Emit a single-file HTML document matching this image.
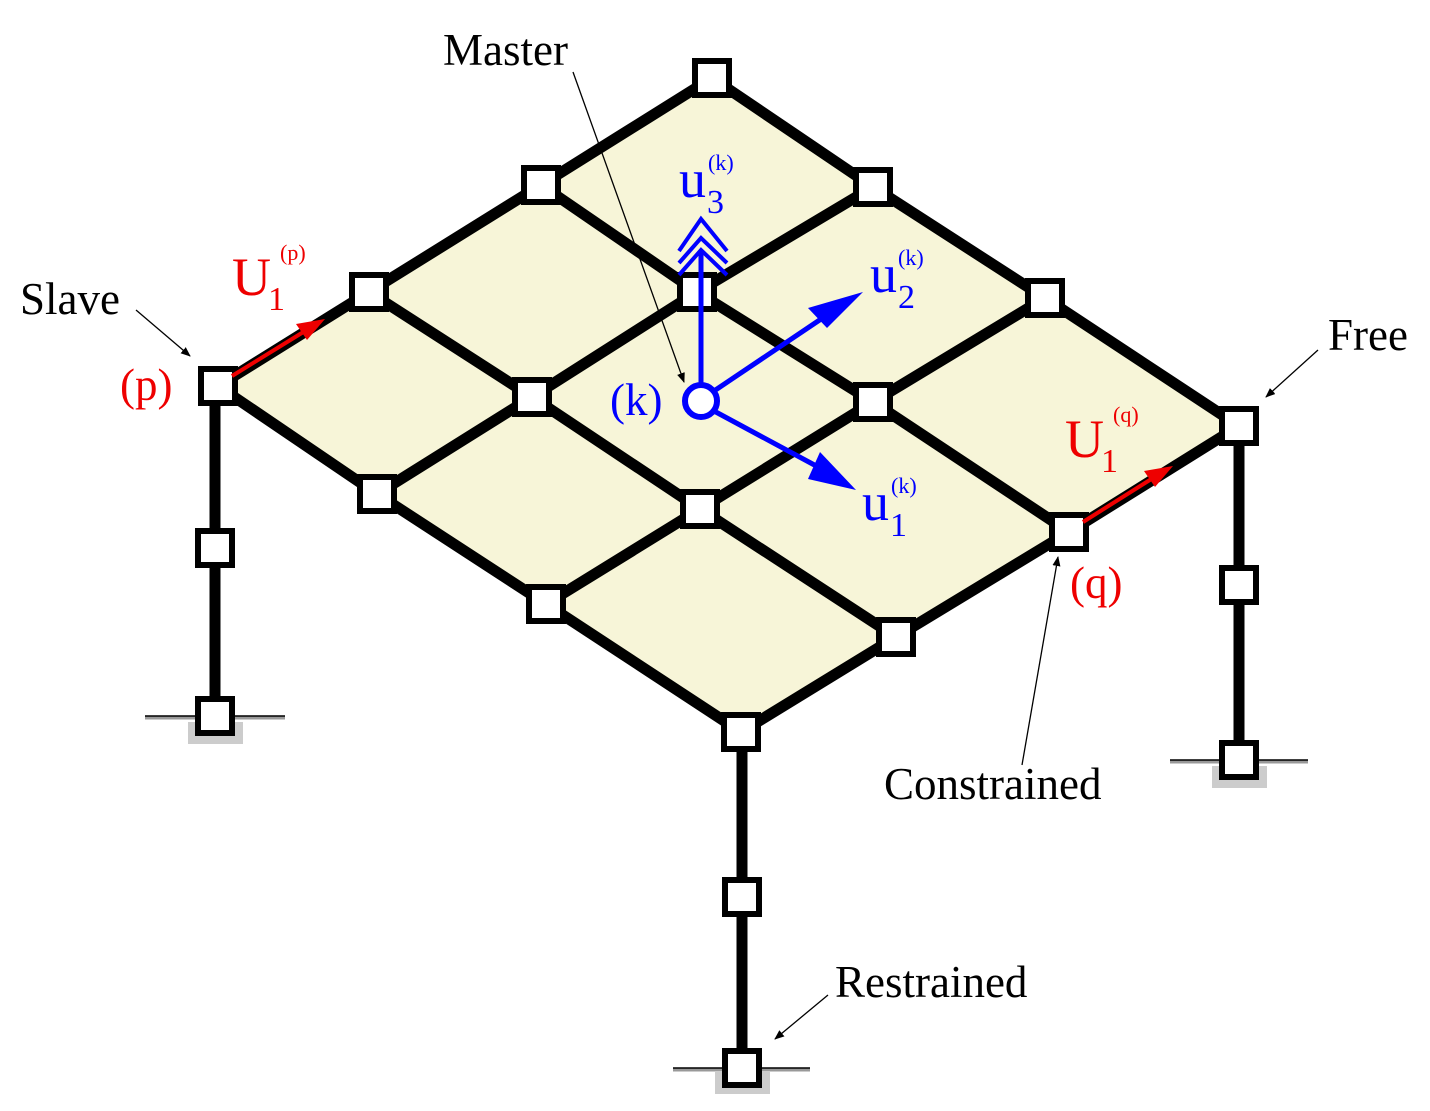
<!DOCTYPE html>
<html><head><meta charset="utf-8"><style>
html,body{margin:0;padding:0;background:#fff;}
svg{display:block;}
text{font-family:"Liberation Serif",serif;}
</style></head><body>
<svg width="1430" height="1111" viewBox="0 0 1430 1111">
<defs>
<marker id="ab" markerWidth="10" markerHeight="8" refX="9" refY="4" orient="auto" markerUnits="userSpaceOnUse"><path d="M0,0 L10,4 L0,8 Z" fill="#000"/></marker>
</defs>
<g>
<polygon points="712,78 1239,426 741,732 218,386" fill="#f7f5d8"/>
<g stroke="#000" stroke-width="11" fill="none" stroke-linejoin="round">
<polyline points="712,78 541,185 369,292 218,386"/>
<polyline points="873,187 697,292 532,397 377,494"/>
<polyline points="1045,298 873,402 700,509 546,604"/>
<polyline points="1239,426 1069,532 896,637 741,732"/>
<polyline points="712,78 873,187 1045,298 1239,426"/>
<polyline points="541,185 697,292 873,402 1069,532"/>
<polyline points="369,292 532,397 700,509 896,637"/>
<polyline points="218,386 377,494 546,604 741,732"/>
</g>
</g>
<g stroke="#000" stroke-width="11">
<line x1="215" y1="386" x2="215" y2="716"/>
<line x1="1239" y1="426" x2="1239" y2="760"/>
<line x1="742" y1="732" x2="742" y2="1068"/>
</g>
<g>
<rect x="188" y="722" width="55" height="22" fill="#ccc"/>
<line x1="145" y1="718" x2="285" y2="718" stroke="#999" stroke-width="3"/>
<line x1="145" y1="716" x2="285" y2="716" stroke="#000" stroke-width="1.5"/>
<rect x="1212" y="766" width="55" height="22" fill="#ccc"/>
<line x1="1170" y1="762" x2="1308" y2="762" stroke="#999" stroke-width="3"/>
<line x1="1170" y1="760" x2="1308" y2="760" stroke="#000" stroke-width="1.5"/>
<rect x="715" y="1072" width="55" height="22" fill="#ccc"/>
<line x1="673" y1="1070" x2="810" y2="1070" stroke="#999" stroke-width="3"/>
<line x1="673" y1="1068" x2="810" y2="1068" stroke="#000" stroke-width="1.5"/>
</g>
<g fill="#fff" stroke="#000" stroke-width="6">
<rect x="695" y="61" width="34" height="34"/><rect x="524" y="168" width="34" height="34"/><rect x="352" y="275" width="34" height="34"/><rect x="201" y="369" width="34" height="34"/>
<rect x="856" y="170" width="34" height="34"/><rect x="680" y="275" width="34" height="34"/><rect x="515" y="380" width="34" height="34"/><rect x="360" y="477" width="34" height="34"/>
<rect x="1028" y="281" width="34" height="34"/><rect x="856" y="385" width="34" height="34"/><rect x="683" y="492" width="34" height="34"/><rect x="529" y="587" width="34" height="34"/>
<rect x="1222" y="409" width="34" height="34"/><rect x="1052" y="515" width="34" height="34"/><rect x="879" y="620" width="34" height="34"/><rect x="724" y="715" width="34" height="34"/>
<rect x="198" y="531" width="34" height="34"/><rect x="198" y="699" width="34" height="34"/>
<rect x="1222" y="568" width="34" height="34"/><rect x="1222" y="743" width="34" height="34"/>
<rect x="725" y="880" width="34" height="34"/><rect x="725" y="1051" width="34" height="34"/>
</g>
<g stroke="#000" stroke-width="1.3" fill="none">
<line x1="573" y1="72" x2="684" y2="382" marker-end="url(#ab)"/>
<line x1="136" y1="310" x2="190" y2="356" marker-end="url(#ab)"/>
<line x1="1318" y1="350" x2="1266" y2="397" marker-end="url(#ab)"/>
<line x1="1022" y1="765" x2="1058" y2="557" marker-end="url(#ab)"/>
<line x1="828" y1="995" x2="775" y2="1039" marker-end="url(#ab)"/>
</g>
<g>
<line x1="232" y1="376" x2="305" y2="331" stroke="#e00" stroke-width="4"/>
<polygon points="325,319 296,324 307,340" fill="#e00"/>
<line x1="1083" y1="522" x2="1153" y2="478" stroke="#e00" stroke-width="4"/>
<polygon points="1173,466 1144,471 1155,487" fill="#e00"/>
</g>
<g stroke="#00f" fill="none">
<line x1="701" y1="385" x2="701" y2="250" stroke-width="5"/>
<polyline points="679,275 701,250 727,275" stroke-width="4"/>
<polyline points="679,263 701,238 727,263" stroke-width="4"/>
<polyline points="679,251 701,219 727,251" stroke-width="4"/>
<line x1="714" y1="391" x2="830" y2="313" stroke-width="5"/>
<polygon points="863,292 808,308 827,328" fill="#00f" stroke="none"/>
<line x1="714" y1="411" x2="820" y2="468" stroke-width="5"/>
<polygon points="856,490 820,452 808,479" fill="#00f" stroke="none"/>
<circle cx="701" cy="401" r="16" fill="#fff" stroke-width="6"/>
</g>
<g font-size="45">
<text x="443" y="65" fill="#000">Master</text>
<text x="20" y="314" fill="#000">Slave</text>
<text x="1328" y="350" fill="#000">Free</text>
<text x="884" y="799" fill="#000">Constrained</text>
<text x="835" y="997" fill="#000">Restrained</text>
<text x="120" y="400" fill="#e00">(p)</text>
<text x="1070" y="598" fill="#e00">(q)</text>
<text x="610" y="415" fill="#00f">(k)</text>
<g fill="#e00"><text x="232" y="295" font-size="54">U</text><text x="268" y="310" font-size="34">1</text><text x="280" y="260" font-size="22">(p)</text></g>
<g fill="#e00"><text x="1065" y="457" font-size="54">U</text><text x="1101" y="472" font-size="34">1</text><text x="1113" y="422" font-size="22">(q)</text></g>
<g fill="#00f"><text x="679" y="197" font-size="54">u</text><text x="707" y="213" font-size="34">3</text><text x="708" y="170" font-size="22">(k)</text></g>
<g fill="#00f"><text x="870" y="292" font-size="54">u</text><text x="898" y="308" font-size="34">2</text><text x="898" y="265" font-size="22">(k)</text></g>
<g fill="#00f"><text x="862" y="520" font-size="54">u</text><text x="890" y="536" font-size="34">1</text><text x="891" y="493" font-size="22">(k)</text></g>
</g>
</svg>
</body></html>
